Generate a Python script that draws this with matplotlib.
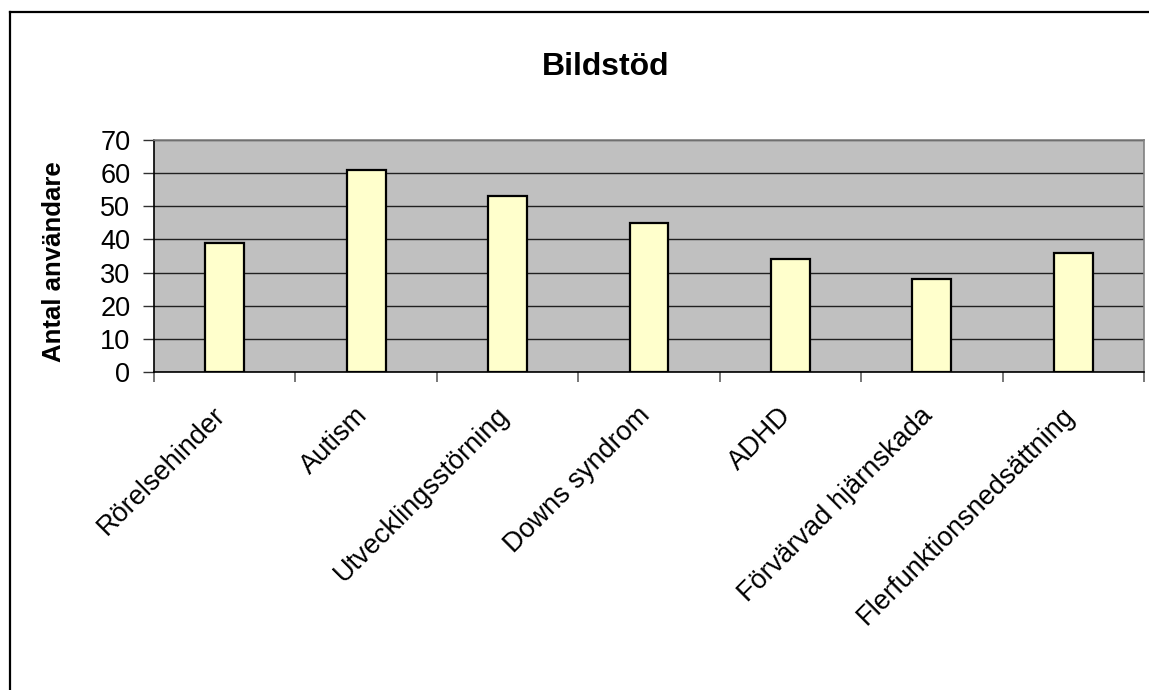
import matplotlib
matplotlib.use("Agg")
import matplotlib.pyplot as plt
from matplotlib.lines import Line2D
from matplotlib.transforms import ScaledTranslation

categories = ["Rörelsehinder", "Autism", "Utvecklingsstörning", "Downs syndrom",
              "ADHD", "Förvärvad hjärnskada", "Flerfunktionsnedsättning"]
values = [39, 61, 53, 45, 34, 28, 36]
yticks = [0, 10, 20, 30, 40, 50, 60, 70]
title = "Bildstöd"
ylabel = "Antal användare"

plt.rcParams['font.family'] = ['Liberation Sans', 'DejaVu Sans']

W, H = 1149, 690
fig = plt.figure(figsize=(W / 100, H / 100), dpi=100)
fig.patch.set_facecolor('white')

# plot area in pixels: left 154, right 1144, top 140, bottom 372
ax = fig.add_axes([154 / W, 1 - 372 / H, (1144 - 154) / W, (372 - 140) / H])
ax.set_facecolor('#C0C0C0')

x = list(range(len(categories)))
ax.bar(x, values, width=0.275, color='#FFFFCC', edgecolor='black', linewidth=1.6, zorder=3)

ax.set_xlim(-0.5, len(categories) - 0.5)
ax.set_ylim(0, 70)
ax.set_yticks(yticks)
ax.set_yticklabels([str(t) for t in yticks], fontsize=19.5)
ax.yaxis.grid(True, color='#202020', linewidth=1.0, zorder=1)
ax.set_axisbelow(True)

ax.set_xticks(x)
ax.set_xticklabels(categories, rotation=45, ha='right', va='top',
                   rotation_mode='anchor', fontsize=19.5)
ax.tick_params(axis='x', which='major', length=0, pad=22)
ax.set_xticks([i - 0.5 for i in range(len(categories) + 1)], minor=True)
ax.tick_params(axis='x', which='minor', length=7, width=1.2, color='#606060', direction='out')
ax.tick_params(axis='y', length=8, width=1.0, color='#303030', direction='out', pad=9)

shift = ScaledTranslation(-12 / 100, 0, fig.dpi_scale_trans)
for lab in ax.get_xticklabels():
    lab.set_transform(lab.get_transform() + shift)

for s in ['top', 'right']:
    ax.spines[s].set_color('#808080')
    ax.spines[s].set_linewidth(1.2)
for s in ['left', 'bottom']:
    ax.spines[s].set_color('black')
    ax.spines[s].set_linewidth(1.2)

ax.set_ylabel(ylabel, fontsize=18.5, fontweight='bold')
ax.yaxis.set_label_coords((66 - 154) / 990, (372 - 262) / 232)

fig.text(606 / W, 1 - 67 / H, title, fontsize=23, fontweight='bold', ha='center', va='center')

# outer chart frame (left and top edges visible)
fig.add_artist(Line2D([9.5 / W, 9.5 / W], [0, 1 - 12 / H], transform=fig.transFigure,
                      color='black', linewidth=1.6))
fig.add_artist(Line2D([9.5 / W, 1], [1 - 12 / H, 1 - 12 / H], transform=fig.transFigure,
                      color='black', linewidth=1.6))

fig.savefig('out.png', dpi=100)
